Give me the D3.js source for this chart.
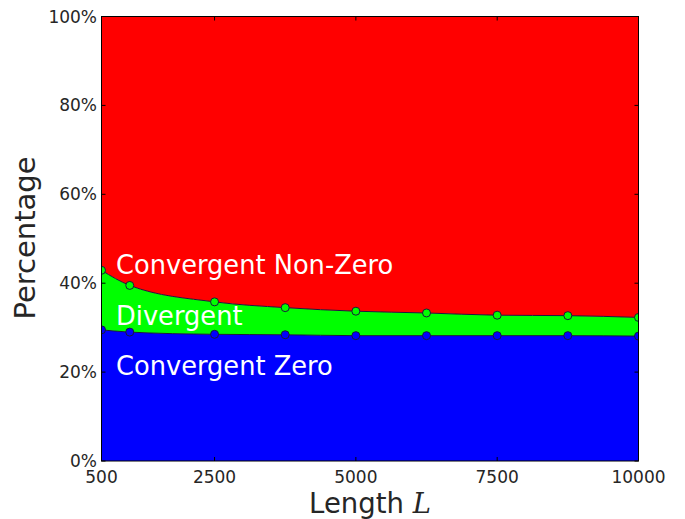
<!DOCTYPE html>
<html>
<head>
<meta charset="utf-8">
<script src="https://cdn.jsdelivr.net/npm/d3@7/dist/d3.min.js"></script>
<style>
  html, body { margin: 0; padding: 0; background: #fff; }
  svg text { font-family: "DejaVu Sans", sans-serif; }
</style>
</head>
<body>
<svg id="chart" width="685" height="519"></svg>
<script>
// Sequence length L
const lengths = [500, 1000, 2500, 3750, 5000, 6250, 7500, 8750, 10000];
// Share of runs (%) in each outcome class
const convergentZero    = [29.5, 29.0, 28.5, 28.4, 28.2, 28.2, 28.2, 28.2, 28.1];
const divergent         = [13.4, 10.5, 7.3, 6.1, 5.5, 5.1, 4.6, 4.5, 4.2];
const convergentNonZero = lengths.map((_, i) => 100 - convergentZero[i] - divergent[i]);

const xTicks = [500, 2500, 5000, 7500, 10000];
const yTicks = [0, 20, 40, 60, 80, 100];

const seriesNames = ["Convergent Zero", "Divergent", "Convergent Non-Zero"];
const seriesColors = ["#0000ff", "#00ff00", "#ff0000"];

const table = lengths.map((L, i) => ({
  L,
  "Convergent Zero": convergentZero[i],
  "Divergent": divergent[i],
  "Convergent Non-Zero": convergentNonZero[i]
}));

const svg = d3.select("#chart");
const m = { left: 101.5, right: 638.5, top: 16.5, bottom: 461 };

const x = d3.scaleLinear().domain([500, 10000]).range([m.left, m.right]);
const y = d3.scaleLinear().domain([0, 100]).range([m.bottom, m.top]);

const stacked = d3.stack().keys(seriesNames)(table);

svg.append("defs").append("clipPath").attr("id", "plotClip")
  .append("rect")
  .attr("x", m.left).attr("y", m.top)
  .attr("width", m.right - m.left).attr("height", m.bottom - m.top);

const plot = svg.append("g").attr("clip-path", "url(#plotClip)");

const area = d3.area()
  .curve(d3.curveMonotoneX)
  .x(d => x(d.data.L))
  .y0(d => y(d[0]))
  .y1(d => y(d[1]));

plot.selectAll("path.layer")
  .data(stacked)
  .join("path")
  .attr("class", "layer")
  .attr("d", area)
  .attr("fill", (d, i) => seriesColors[i]);

// boundary lines between layers
const edge = d3.line()
  .curve(d3.curveMonotoneX)
  .x(d => x(d.data.L))
  .y(d => y(d[1]));

plot.selectAll("path.edge")
  .data(stacked.slice(0, 2))
  .join("path")
  .attr("class", "edge")
  .attr("d", edge)
  .attr("fill", "none")
  .attr("stroke", "#1a1a3a")
  .attr("stroke-width", 1);

// markers on the top of the lower two layers
stacked.slice(0, 2).forEach((layer, i) => {
  plot.selectAll(null)
    .data(layer)
    .join("circle")
    .attr("cx", d => x(d.data.L))
    .attr("cy", d => y(d[1]))
    .attr("r", 4)
    .attr("fill", seriesColors[i])
    .attr("stroke", "#1a1a3a")
    .attr("stroke-width", 1);
});

// region labels
const labels = [
  { text: "Convergent Non-Zero", yb: 273.5 },
  { text: "Divergent", yb: 325 },
  { text: "Convergent Zero", yb: 375 }
];
svg.selectAll("text.region")
  .data(labels)
  .join("text")
  .attr("class", "region")
  .attr("x", 116)
  .attr("y", d => d.yb)
  .attr("fill", "#fff")
  .attr("font-size", 25.7)
  .text(d => d.text);

// axes frame and inward ticks
const tickColor = "#000";
const axisG = svg.append("g");
axisG.append("rect")
  .attr("x", m.left).attr("y", m.top)
  .attr("width", m.right - m.left).attr("height", m.bottom - m.top)
  .attr("fill", "none").attr("stroke", "#000").attr("stroke-width", 1);

const tl = 4;
xTicks.forEach(t => {
  axisG.append("line").attr("x1", x(t)).attr("x2", x(t))
    .attr("y1", m.bottom).attr("y2", m.bottom - tl).attr("stroke", tickColor);
  axisG.append("line").attr("x1", x(t)).attr("x2", x(t))
    .attr("y1", m.top).attr("y2", m.top + tl).attr("stroke", tickColor);
});
yTicks.forEach(t => {
  axisG.append("line").attr("x1", m.left).attr("x2", m.left + tl)
    .attr("y1", y(t)).attr("y2", y(t)).attr("stroke", tickColor);
  axisG.append("line").attr("x1", m.right).attr("x2", m.right - tl)
    .attr("y1", y(t)).attr("y2", y(t)).attr("stroke", tickColor);
});

// tick labels
svg.selectAll("text.xt")
  .data(xTicks)
  .join("text")
  .attr("class", "xt")
  .attr("x", d => x(d))
  .attr("y", 482.5)
  .attr("text-anchor", "middle")
  .attr("font-size", 17)
  .attr("fill", "#262626")
  .text(d => d);

svg.selectAll("text.yt")
  .data(yTicks)
  .join("text")
  .attr("class", "yt")
  .attr("x", 97)
  .attr("y", d => y(d) + 6)
  .attr("text-anchor", "end")
  .attr("font-size", 17)
  .attr("fill", "#262626")
  .text(d => d + "%");

// axis titles
const xt = svg.append("text")
  .attr("x", 370)
  .attr("y", 512.5)
  .attr("text-anchor", "middle")
  .attr("font-size", 27.5)
  .attr("fill", "#262626");
xt.append("tspan").text("Length ");
xt.append("tspan")
  .attr("font-family", "DejaVu Serif, serif")
  .attr("font-style", "italic")
  .text("L");

svg.append("text")
  .attr("transform", "translate(35,238) rotate(-90)")
  .attr("text-anchor", "middle")
  .attr("font-size", 29)
  .attr("fill", "#262626")
  .text("Percentage");
</script>
</body>
</html>
